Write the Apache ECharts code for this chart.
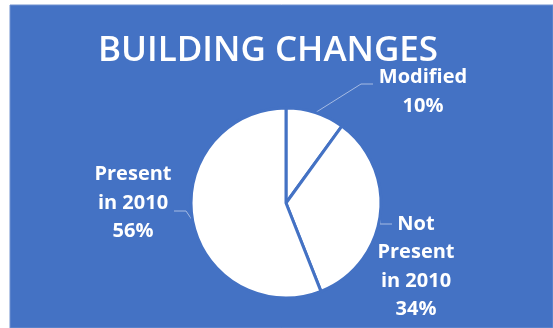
<!DOCTYPE html>
<html>
<head>
<meta charset="utf-8">
<script src="https://cdn.jsdelivr.net/npm/echarts@6/dist/echarts.min.js"></script>
<style>
  html, body { margin: 0; padding: 0; background: #ffffff; }
  #chart { width: 553px; height: 328px; }
</style>
</head>
<body>
<div id="chart"></div>
<script>
// Building change shares (percent of buildings)
const categories = ['Modified', 'Not Present in 2010', 'Present in 2010'];
const labelNames = ['Modified', 'Not\nPresent\nin 2010', 'Present\nin 2010'];
const shares = [10, 34, 56];

const TITLE = 'BUILDING CHANGES';
const BLUE = '#4472C4';
const CX = 286, CY = 203, R = 95;

// Label placement relative to the pie centre: block centre, elbow and end of the leader line
const labelPlacement = [
  { dx: 137, dy: -111, elbow: [75, -119], end: [87, -119] },
  { dx: 130, dy: 64, elbow: [94, 21], end: [106, 21] },
  { dx: -153, dy: 0, elbow: [-100, 8], end: [-112, 8] }
];

const chart = echarts.init(document.getElementById('chart'), null, { renderer: 'canvas' });

chart.setOption({
  animation: false,
  backgroundColor: '#ffffff',
  graphic: [
    {
      type: 'rect',
      z: -10,
      shape: { x: 10, y: 5, width: 543, height: 323 },
      style: { fill: BLUE, stroke: '#6f90cf', lineWidth: 1 }
    },
    {
      type: 'text',
      z: 10,
      x: 268,
      y: 51,
      style: {
        text: TITLE,
        fill: '#ffffff',
        font: '600 35px "Open Sans"',
        align: 'center',
        verticalAlign: 'middle'
      }
    }
  ],
  series: [
    {
      type: 'pie',
      center: [CX, CY],
      radius: R,
      startAngle: 90,
      clockwise: true,
      silent: true,
      itemStyle: { color: '#ffffff', borderColor: BLUE, borderWidth: 3 },
      label: {
        show: true,
        position: 'outside',
        color: '#ffffff',
        fontFamily: 'Open Sans',
        fontWeight: 700,
        fontSize: 20,
        lineHeight: 28.5,
        align: 'center',
        formatter: (p) => labelNames[p.dataIndex] + '\n' + p.percent.toFixed(0) + '%'
      },
      labelLine: {
        show: true,
        smooth: false,
        lineStyle: { color: '#a6bbe3', width: 1 }
      },
      labelLayout: (params) => {
        const lp = labelPlacement[params.dataIndex];
        const start = params.labelLinePoints ? params.labelLinePoints[0] : [CX, CY];
        return {
          x: CX + lp.dx,
          y: CY + lp.dy,
          align: 'center',
          verticalAlign: 'middle',
          labelLinePoints: [
            start,
            [CX + lp.elbow[0], CY + lp.elbow[1]],
            [CX + lp.end[0], CY + lp.end[1]]
          ]
        };
      },
      data: categories.map((name, i) => ({ name: name, value: shares[i] }))
    }
  ]
});
</script>
</body>
</html>
